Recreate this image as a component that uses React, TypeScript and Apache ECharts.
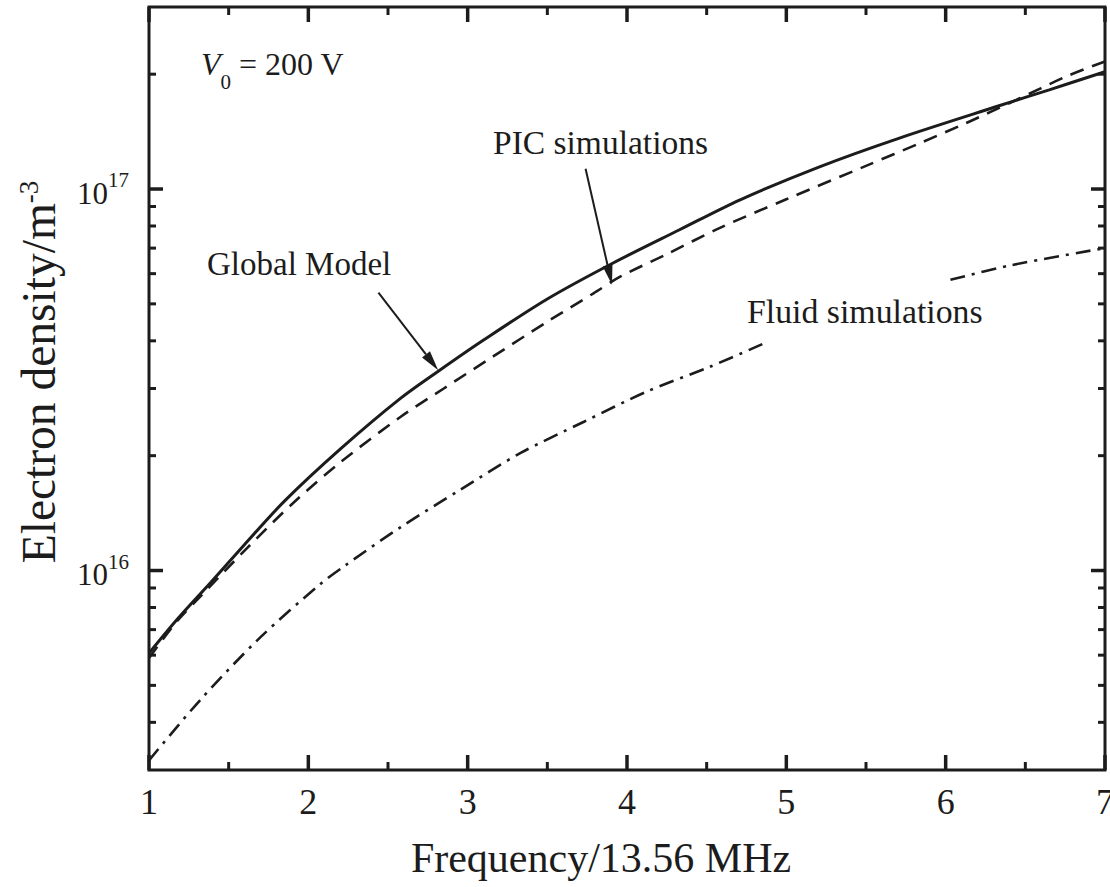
import { useEffect, useRef } from 'react';
import * as echarts from 'echarts';

// ---- data ----
const globalFreq = [1, 1.18, 1.39, 1.6, 1.85, 2.2, 2.58, 2.82, 3.1, 3.5, 3.91, 4.33, 4.71, 5.2, 5.71, 6.34, 6.65, 7];
const globalDensity = [6.07e15, 7.47e15, 9.33e15, 1.17e16, 1.52e16, 2.08e16, 2.83e16, 3.34e16, 4.02e16, 5.15e16, 6.39e16, 7.82e16, 9.37e16, 1.14e17, 1.36e17, 1.655e17, 1.82e17, 2.03e17];

const picFreq = [1, 1.18, 1.32, 1.62, 1.91, 2.2, 2.58, 2.85, 3.16, 3.5, 3.79, 3.96, 4.25, 4.58, 5.0, 5.5, 5.84, 6.13, 6.44, 6.76, 7];
const picDensity = [5.9e15, 7.4e15, 8.53e15, 1.15e16, 1.51e16, 1.92e16, 2.53e16, 3.0e16, 3.64e16, 4.49e16, 5.33e16, 5.9e16, 6.75e16, 7.9e16, 9.4e16, 1.15e17, 1.32e17, 1.49e17, 1.71e17, 1.975e17, 2.16e17];

// fluid curve is interrupted where its label sits
const fluidFreqA = [1, 1.32, 1.7, 2.08, 2.23, 2.58, 2.95, 3.33, 3.73, 4.12, 4.52, 4.86];
const fluidDensityA = [3.18e15, 4.57e15, 6.69e15, 9.25e15, 1.03e16, 1.3e16, 1.625e16, 2.03e16, 2.455e16, 2.94e16, 3.42e16, 3.94e16];
const fluidFreqB = [6.03, 6.4, 7];
const fluidDensityB = [5.78e16, 6.3e16, 7.0e16];

const xMajorTicks = [1, 2, 3, 4, 5, 6, 7];
const xMinorTicks = [1.5, 2.5, 3.5, 4.5, 5.5, 6.5];
const yMajorTicks = [1e16, 1e17];
const yMinorTicks = [4e15, 5e15, 6e15, 7e15, 8e15, 9e15, 2e16, 3e16, 4e16, 5e16, 6e16, 7e16, 8e16, 9e16, 2e17];

const X_MIN = 1;
const X_MAX = 7;
const Y_MIN = 3e15;
const Y_MAX = 3e17;

// annotation arrows (data coordinates): [from, to]
const globalArrow = [[2.44, 5.35e16], [2.815, 3.35e16]];
const picArrow = [[3.74, 1.13e17], [3.906, 5.61e16]];

const FONT = 'Liberation Serif';
const INK = '#1c1c1c';

const zip = (xs: number[], ys: number[]) => xs.map((x, i) => [x, ys[i]]);

function tickSeries(data: number[][], axis: 'x' | 'y', len: number, width: number) {
  return {
    type: 'custom',
    coordinateSystem: 'cartesian2d',
    silent: true,
    z: 10,
    data,
    renderItem: (params: any, api: any) => {
      const cs = params.coordSys;
      const p = api.coord([api.value(0), api.value(1)]);
      const style = { stroke: INK, lineWidth: width };
      if (axis === 'y') {
        return {
          type: 'group',
          children: [
            { type: 'line', shape: { x1: cs.x, y1: p[1], x2: cs.x + len, y2: p[1] }, style },
            { type: 'line', shape: { x1: cs.x + cs.width, y1: p[1], x2: cs.x + cs.width - len, y2: p[1] }, style },
          ],
        };
      }
      return {
        type: 'group',
        children: [
          { type: 'line', shape: { x1: p[0], y1: cs.y + cs.height, x2: p[0], y2: cs.y + cs.height - len }, style },
          { type: 'line', shape: { x1: p[0], y1: cs.y, x2: p[0], y2: cs.y + len }, style },
        ],
      };
    },
  };
}

export default function App() {
  const ref = useRef<HTMLDivElement>(null);
  useEffect(() => {
    const el = ref.current!;
    const chart = echarts.init(el, null, { renderer: 'svg' });
    const lineBase = { type: 'line', showSymbol: false, symbol: 'none', smooth: 0.3, z: 5, silent: true };
    chart.setOption({
      animation: false,
      backgroundColor: '#ffffff',
      grid: {
        left: 149, right: 5, top: 7, bottom: 117,
        show: true, borderColor: INK, borderWidth: 3, backgroundColor: 'transparent',
        containLabel: false, outerBoundsMode: 'none',
      },
      xAxis: {
        type: 'value', min: X_MIN, max: X_MAX, interval: 1,
        axisLine: { show: false }, axisTick: { show: false }, splitLine: { show: false },
        axisLabel: { fontFamily: FONT, fontSize: 36, color: INK, margin: 14, showMaxLabel: true },
      },
      yAxis: {
        type: 'log', logBase: 10, min: Y_MIN, max: Y_MAX,
        axisLine: { show: false }, axisTick: { show: false }, splitLine: { show: false },
        axisLabel: {
          margin: 20,
          formatter: (v: number) => {
            const e = Math.log10(v);
            if (Math.abs(e - Math.round(e)) > 1e-6) return '';
            return `{b|10}{s|${Math.round(e)}}`;
          },
          rich: {
            b: { fontFamily: FONT, fontSize: 31, color: INK, padding: [8, 0, 0, 0] },
            s: { fontFamily: FONT, fontSize: 21, color: INK, verticalAlign: 'top' },
          },
        },
      },
      series: [
        { ...lineBase, name: 'Global Model', data: zip(globalFreq, globalDensity), lineStyle: { color: INK, width: 3, type: 'solid' } },
        { ...lineBase, name: 'PIC simulations', data: zip(picFreq, picDensity), lineStyle: { color: INK, width: 2.6, type: [14, 9] } },
        { ...lineBase, name: 'Fluid simulations', data: zip(fluidFreqA, fluidDensityA), lineStyle: { color: INK, width: 2.6, type: [15, 7, 3, 7] } },
        { ...lineBase, name: 'Fluid simulations (2)', data: zip(fluidFreqB, fluidDensityB), lineStyle: { color: INK, width: 2.6, type: [15, 7, 3, 7] } },
        tickSeries(xMajorTicks.map((f) => [f, Y_MIN]), 'x', 15, 3.5),
        tickSeries(xMinorTicks.map((f) => [f, Y_MIN]), 'x', 8, 3),
        tickSeries(yMajorTicks.map((v) => [X_MIN, v]), 'y', 14, 3.5),
        tickSeries(yMinorTicks.map((v) => [X_MIN, v]), 'y', 7, 3),
      ],
    });

    const px = (p: number[]) => chart.convertToPixel({ gridIndex: 0 }, p) as number[];
    const arrow = (from: number[], to: number[]) => {
      const a = px(from);
      const b = px(to);
      const dx = b[0] - a[0];
      const dy = b[1] - a[1];
      const L = Math.hypot(dx, dy);
      const ux = dx / L;
      const uy = dy / L;
      const hl = 20;
      const hw = 5;
      const bx = b[0] - ux * hl;
      const by = b[1] - uy * hl;
      return [
        { type: 'line', z: 20, shape: { x1: a[0], y1: a[1], x2: bx, y2: by }, style: { stroke: INK, lineWidth: 2 } },
        {
          type: 'polygon', z: 20,
          shape: { points: [[b[0], b[1]], [bx - uy * hw, by + ux * hw], [bx + uy * hw, by - ux * hw]] },
          style: { fill: INK },
        },
      ];
    };
    const txt = (text: string, x: number, y: number, size: number, extra: any = {}) => ({
      type: 'text', x, y, z: 20,
      style: { text, fontFamily: FONT, fontSize: size, fill: INK, align: 'left', verticalAlign: 'middle', ...extra },
    });

    chart.setOption({
      graphic: [
        ...arrow(globalArrow[0], globalArrow[1]),
        ...arrow(picArrow[0], picArrow[1]),
        txt('Global Model', 207, 264, 33),
        txt('PIC simulations', 493, 142, 33.5),
        txt('Fluid simulations', 747, 311, 33.8),
        {
          type: 'text', x: 201, y: 70, z: 20,
          style: {
            text: '{i|V}{s|0}{n| = 200 V}',
            align: 'left', verticalAlign: 'middle',
            rich: {
              i: { fontFamily: FONT, fontSize: 32, fontStyle: 'italic', fill: INK, padding: [0, 0, 13, 0] },
              s: { fontFamily: FONT, fontSize: 21, fill: INK, verticalAlign: 'bottom' },
              n: { fontFamily: FONT, fontSize: 32, fill: INK, padding: [0, 0, 13, 0] },
            },
          },
        },
        txt('Frequency/13.56 MHz', 601, 858, 42, { align: 'center' }),
        {
          type: 'text', x: 39, y: 372, rotation: Math.PI / 2, z: 20,
          style: {
            text: '{a|Electron density/m}{b|-3}',
            align: 'center', verticalAlign: 'middle',
            rich: {
              a: { fontFamily: FONT, fontSize: 47.5, fill: INK },
              b: { fontFamily: FONT, fontSize: 27, fill: INK, verticalAlign: 'top' },
            },
          },
        },
      ],
    });

    return () => chart.dispose();
  }, []);
  return <div ref={ref} style={{ position: 'fixed', left: 0, top: 0, width: 1110, height: 887, background: '#fff' }} />;
}
